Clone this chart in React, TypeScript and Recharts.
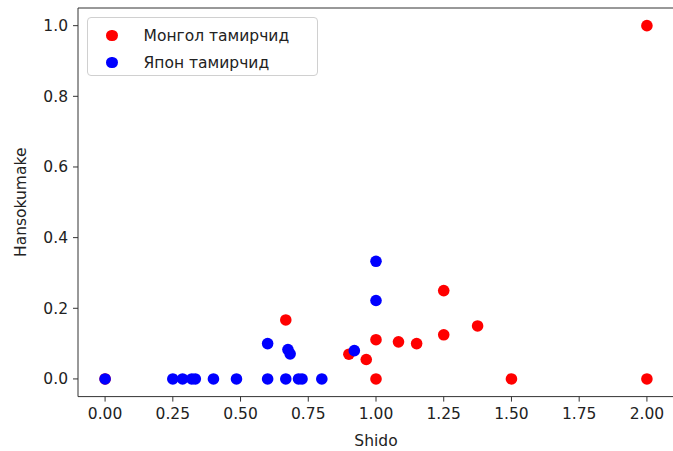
import { ScatterChart, Scatter, XAxis, YAxis, ReferenceLine } from "recharts";

// Mongolian athletes: shido vs hansokumake rate
const mongolShido = [0, 0.667, 0.9, 0.964, 1, 1, 1.083, 1.15, 1.25, 1.25, 1.375, 1.5, 2, 2];
const mongolHansoku = [0, 0.167, 0.07, 0.055, 0, 0.111, 0.105, 0.1, 0.25, 0.125, 0.15, 0, 0, 1];

// Japanese athletes
const japanShido = [
  0, 0.25, 0.286, 0.32, 0.333, 0.4, 0.485, 0.6, 0.667, 0.714, 0.727, 0.8,
  0.6, 0.675, 0.683, 0.92, 1, 1,
];
const japanHansoku = [
  0, 0, 0, 0, 0, 0, 0, 0, 0, 0, 0, 0,
  0.1, 0.083, 0.071, 0.08, 0.222, 0.333,
];

const seriesNames = ["Монгол тамирчид", "Япон тамирчид"];
const seriesColors = ["#ff0000", "#0000ff"];

const xTicks = [0, 0.25, 0.5, 0.75, 1, 1.25, 1.5, 1.75, 2];
const yTicks = [0, 0.2, 0.4, 0.6, 0.8, 1];

const FONT = "DejaVu Sans, sans-serif";
const TEXT = "#222";
const AXIS = "#333";

const toPoints = (xs: number[], ys: number[]) =>
  xs.map((x, i) => ({ shido: x, hansokumake: ys[i] }));

const mongolData = toPoints(mongolShido, mongolHansoku);
const japanData = toPoints(japanShido, japanHansoku);

const dot = (color: string) => (props: any) =>
  <circle cx={props.cx} cy={props.cy} r={5.8} fill={color} />;

// legend drawn as an overlay so it does not take room from the plot
const LegendBox = () => (
  <div
    style={{
      position: "absolute",
      left: 87,
      top: 17,
      width: 231,
      height: 59,
      boxSizing: "border-box",
      border: "1px solid #d0d0d0",
      borderRadius: 4,
      background: "rgba(255,255,255,0.8)",
      paddingTop: 4,
      fontFamily: FONT,
      fontSize: 15.5,
      color: TEXT,
    }}
  >
    {seriesNames.map((name, i) => (
      <div key={name} style={{ height: 27, display: "flex", alignItems: "center" }}>
        <span
          style={{
            display: "inline-block",
            width: 11.6,
            height: 11.6,
            borderRadius: "50%",
            background: seriesColors[i],
            marginLeft: 18,
            marginRight: 26,
          }}
        />
        <span>{name}</span>
      </div>
    ))}
  </div>
);

export default function App() {
  return (
    <div style={{ position: "absolute", left: 0, top: 0, width: 673, height: 451, overflow: "hidden" }}>
      <ScatterChart width={675} height={451} margin={{ top: 8, right: 1, bottom: 0, left: 0 }}>
        <XAxis
          type="number"
          dataKey="shido"
          domain={[-0.1, 2.1]}
          ticks={xTicks}
          tickFormatter={(v: number) => v.toFixed(2)}
          height={54.4}
          tickSize={5}
          tickMargin={6}
          stroke={AXIS}
          tick={{ fill: TEXT, fontSize: 15.5, fontFamily: FONT }}
          label={{
            value: "Shido",
            position: "insideBottom",
            offset: 5,
            fill: TEXT,
            fontSize: 15.5,
            fontFamily: FONT,
          }}
        />
        <YAxis
          type="number"
          dataKey="hansokumake"
          domain={[-0.05, 1.05]}
          ticks={yTicks}
          tickFormatter={(v: number) => v.toFixed(1)}
          width={78}
          tickSize={5}
          tickMargin={5}
          stroke={AXIS}
          tick={{ fill: TEXT, fontSize: 15.5, fontFamily: FONT }}
          label={(props: any) => {
            const vb = props.viewBox || { y: 8, height: 388.6 };
            const cy = vb.y + vb.height / 2;
            return (
              <text
                x={21}
                y={cy}
                transform={`rotate(-90, 21, ${cy})`}
                textAnchor="middle"
                dominantBaseline="central"
                fill={TEXT}
                fontSize={15.5}
                fontFamily={FONT}
              >
                Hansokumake
              </text>
            );
          }}
        />
        <ReferenceLine y={1.05} stroke={AXIS} />
        <Scatter
          name={seriesNames[0]}
          data={mongolData}
          fill={seriesColors[0]}
          shape={dot(seriesColors[0])}
          isAnimationActive={false}
        />
        <Scatter
          name={seriesNames[1]}
          data={japanData}
          fill={seriesColors[1]}
          shape={dot(seriesColors[1])}
          isAnimationActive={false}
        />
      </ScatterChart>
      <LegendBox />
    </div>
  );
}
